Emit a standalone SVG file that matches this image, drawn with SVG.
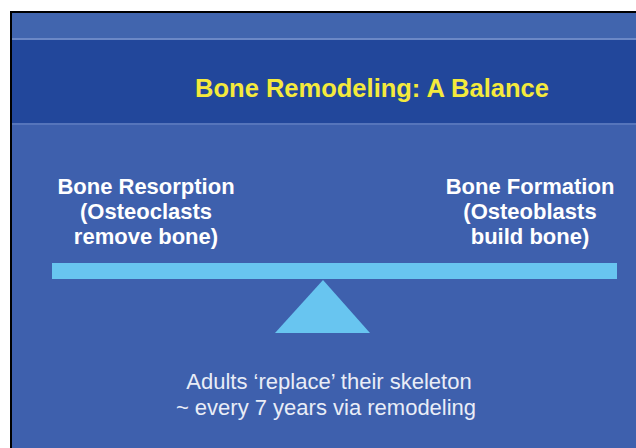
<svg xmlns="http://www.w3.org/2000/svg" width="636" height="448" viewBox="0 0 636 448">
<style>
.lbl{font-family:"Liberation Sans",Arial,sans-serif;font-weight:bold;font-size:22px;fill:#ffffff;text-anchor:middle}
.note{font-family:"Liberation Sans",Arial,sans-serif;font-size:22px;fill:#e9edf7;text-anchor:middle}
.title{font-family:"Liberation Sans",Arial,sans-serif;font-weight:bold;font-size:25.5px;fill:#f4ea3c;text-anchor:middle}
.beam{fill:#68c5f0}
</style>
<rect x="0" y="0" width="636" height="448" fill="#ffffff"/>
<rect x="10" y="11" width="626" height="437" fill="#000000"/>
<rect x="12" y="13" width="624" height="435" fill="#3e60ad"/>
<rect x="12" y="13" width="624" height="25" fill="#4165ae"/>
<rect x="12" y="38" width="624" height="2" fill="#6b88c6"/>
<rect x="12" y="40" width="624" height="83" fill="#22479b"/>
<rect x="12" y="123" width="624" height="2" fill="#5675bb"/>
<g id="title"><text class="title" x="372" y="97">Bone Remodeling: A Balance</text></g>
<g id="resorption">
<text class="lbl" x="146" y="194">Bone Resorption</text>
<text class="lbl" x="146" y="219">(Osteoclasts</text>
<text class="lbl" x="146" y="244">remove bone)</text>
</g>
<g id="formation">
<text class="lbl" x="530" y="194">Bone Formation</text>
<text class="lbl" x="530" y="219">(Osteoblasts</text>
<text class="lbl" x="530" y="244">build bone)</text>
</g>
<g id="beam"><rect class="beam" x="52" y="263" width="565" height="16"/></g>
<g id="fulcrum"><polygon class="beam" points="323,280 275,333 370,333"/></g>
<g id="note">
<text class="note" x="329" y="389">Adults ‘replace’ their skeleton</text>
<text class="note" x="326" y="415">~ every 7 years via remodeling</text>
</g>
</svg>
